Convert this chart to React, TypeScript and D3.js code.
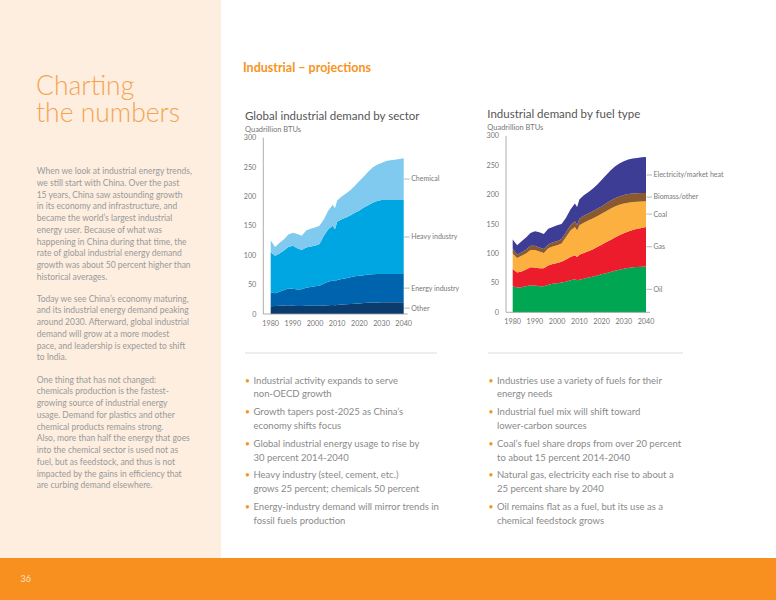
import React from "react";
import * as d3 from "d3";

const years = [1980,1982,1984,1986,1988,1990,1992,1994,1996,1998,2000,2002,2004,2006,2008,2009,2010,2012,2014,2016,2018,2020,2022,2024,2026,2028,2030,2032,2034,2036,2038,2040];

// Sector chart (Quadrillion BTUs)
const other = [13,13.5,14,14.5,15,14,13.5,13.5,14,14,14,14,14.5,15,15.5,15,15.5,16,16.5,17,17.5,18,18.5,19,19.5,19.5,20,20,20,20,20,20];
const energyIndustry = [24,22,24,26.5,28.5,29,28,28.5,30.5,32,33,34,37.5,40,41.5,40.5,42.5,43.5,44.5,45.5,46.5,47,47.5,48,48,48.5,48,48,48,48,48,48];
const heavyIndustry = [68,63.5,65,67,70.5,73,70.5,67,68.5,69,69,71,81,89,93,88.5,99,101.5,103,105.5,108,111,115,118,121.5,124,126,126,126,126,126,126];
const chemical = [20,15,18,19,21,22,24,24,29,30,31,31,28,32,36,36,36,39,41,43,46,50,53,57,60,62,63,66,67.5,68.5,69.5,71];

// Fuel chart (Quadrillion BTUs)
const oil = [44.5,42,42.5,44.5,46,45.5,44.5,44.5,47,48.5,49.5,50.5,52,54.5,56,54.5,55.5,57,59,60.5,62.5,64.5,66.5,68.5,70.5,72.5,74,75.5,76.5,77,77.5,78];
const gas = [29,25.5,27,28.5,30.5,30.5,30.5,30.5,32.5,33.5,34.5,35.5,38,39.5,41,39.5,42.5,44,45,46.5,48.5,50.5,52.5,54.5,56.5,58.5,60.5,62,63.5,65,66,67];
const coal = [26.5,25,26.5,27,29.5,30,28.5,26,29.5,30,30,31,38,45,48,45,50,51.5,52,52.5,52.5,52.5,53,53,53,52,50.5,49,47.5,46,45,44];
const biomass = [8,5.5,6,6.5,7,7,6.5,6.5,6.5,7,7,7.5,8,9,10,9.5,11,11.5,12,12.5,12.5,12.5,13,13.5,14,14,14.5,14.5,14.5,14.5,14.5,14];
const electricity = [16,16,19,20.5,22,25,26,25.5,26.5,26,27,25.5,25,27,30,30.5,33,35,36,38,41,45,48,51.5,54,56,57.5,59,59.5,60,60.5,61];

const yTicks = [0,50,100,150,200,250,300];
const xTicks = [1980,1990,2000,2010,2020,2030,2040];

const sectorKeys = ["Other","Energy industry","Heavy industry","Chemical"];
const sectorValues = [other, energyIndustry, heavyIndustry, chemical];
const sectorColors = ["#0b3c6f","#0063ae","#00a6e2","#80c9ef"];

const fuelKeys = ["Oil","Gas","Coal","Biomass/other","Electricity/market heat"];
const fuelValues = [oil, gas, coal, biomass, electricity];
const fuelColors = ["#00a651","#ec1c2d","#fbb03f","#8a5a2e","#3d3d96"];

const bullets1 = [
  ["Industrial activity expands to serve","non-OECD growth"],
  ["Growth tapers post-2025 as China’s","economy shifts focus"],
  ["Global industrial energy usage to rise by","30 percent 2014-2040"],
  ["Heavy industry (steel, cement, etc.)","grows 25 percent; chemicals 50 percent"],
  ["Energy-industry demand will mirror trends in","fossil fuels production"],
];
const bullets2 = [
  ["Industries use a variety of fuels for their","energy needs"],
  ["Industrial fuel mix will shift toward","lower-carbon sources"],
  ["Coal’s fuel share drops from over 20 percent","to about 15 percent 2014-2040"],
  ["Natural gas, electricity each rise to about a","25 percent share by 2040"],
  ["Oil remains flat as a fuel, but its use as a","chemical feedstock grows"],
];

const paragraphs = [
  ["When we look at industrial energy trends,","we still start with China. Over the past","15 years, China saw astounding growth","in its economy and infrastructure, and","became the world’s largest industrial","energy user. Because of what was","happening in China during that time, the","rate of global industrial energy demand","growth was about 50 percent higher than","historical averages."],
  ["Today we see China’s economy maturing,","and its industrial energy demand peaking","around 2030. Afterward, global industrial","demand will grow at a more modest","pace, and leadership is expected to shift","to India."],
  ["One thing that has not changed:","chemicals production is the fastest-","growing source of industrial energy","usage. Demand for plastics and other","chemical products remains strong.","Also, more than half the energy that goes","into the chemical sector is used not as","fuel, but as feedstock, and thus is not","impacted by the gains in efficiency that","are curbing demand elsewhere."],
];

const FONT = "Lato, 'Open Sans', sans-serif";

type ChartProps = {
  title: string; keys: string[]; values: number[][]; colors: string[];
  x0: number; x1: number; yBase: number; axisX: number; titleX: number; titleY: number;
  labelOverride?: Record<string, number>;
};

function StackChart(p: ChartProps) {
  const rows = years.map((yr, i) => {
    const r: any = { year: yr };
    p.keys.forEach((k, j) => (r[k] = p.values[j][i]));
    return r;
  });
  const series = d3.stack().keys(p.keys)(rows as any);
  const x = d3.scaleLinear().domain([1980, 2040]).range([p.x0, p.x1]);
  const y = d3.scaleLinear().domain([0, 300]).range([p.yBase, p.yBase - 176.4]);
  const area = d3.area<any>().x((d) => x(d.data.year)).y0((d) => y(d[0])).y1((d) => y(d[1])).curve(d3.curveLinear);
  const n = years.length - 1;
  return (
    <g fontFamily={FONT}>
      <text x={p.titleX} y={p.titleY} fontSize={11.5} fill="#555">{p.title}</text>
      <text x={p.titleX} y={p.titleY + 11.5} fontSize={7.5} fill="#777">Quadrillion BTUs</text>
      {series.map((s, i) => (
        <path key={p.keys[i]} d={area(s as any) || ""} fill={p.colors[i]} />
      ))}
      <line x1={p.axisX} x2={p.axisX} y1={y(300)} y2={y(0)} stroke="#999" strokeWidth={0.8} />
      <line x1={p.axisX} x2={p.x1 + 4} y1={y(0)} y2={y(0)} stroke="#999" strokeWidth={0.8} />
      {yTicks.map((t) => (
        <text key={t} x={p.axisX - 7} y={y(t) + 2.5} fontSize={7.2} fill="#777" textAnchor="end">{t}</text>
      ))}
      {xTicks.map((t) => (
        <text key={t} x={x(t)} y={y(0) + 11.5} fontSize={7.2} fill="#777" textAnchor="middle">{t}</text>
      ))}
      {series.map((s, i) => {
        const last = s[n];
        const k = p.keys[i];
        const v = p.labelOverride && p.labelOverride[k] !== undefined ? p.labelOverride[k] : (last[0] + last[1]) / 2;
        const ly = y(v);
        return (
          <g key={"l" + k}>
            <line x1={p.x1 + 0.5} x2={p.x1 + 6} y1={ly} y2={ly} stroke="#999" strokeWidth={0.7} />
            <text x={p.x1 + 7.5} y={ly + 2.4} fontSize={7} fill="#777">{k}</text>
          </g>
        );
      })}
    </g>
  );
}

function Bullets({ items, x }: { items: string[][]; x: number }) {
  return (
    <g fontFamily={FONT} fontSize={9.5} fill="#8a8a8a">
      {items.map((b, i) => (
        <g key={i}>
          <text x={x} y={383.5 + i * 31.6} fill="#f7941d" fontSize={8.5}>•</text>
          {b.map((line, j) => (
            <text key={j} x={x + 8.5} y={383.5 + i * 31.6 + j * 13.8}>{line}</text>
          ))}
        </g>
      ))}
    </g>
  );
}

export default function App() {
  const starts = [174, 301.5, 382.5];
  return (
    <svg width={776} height={600} style={{ position: "absolute", left: 0, top: 0, background: "#fff" }}>
      <rect x={0} y={0} width={221} height={558} fill="#fdeee0" />
      <rect x={0} y={558} width={776} height={42} fill="#f7901e" />
      <text x={20.5} y={582} fontFamily={FONT} fontSize={9} fill="#fde2c2">36</text>
      <text x={36} y={95} fontFamily={FONT} fontWeight={300} fontSize={26.5} fill="#f4a452">Charting</text>
      <text x={36} y={122.3} fontFamily={FONT} fontWeight={300} fontSize={26.5} fill="#f4a452">the numbers</text>
      <g fontFamily={FONT} fontSize={8.5} fill="#9a9a9a">
        {paragraphs.map((para, pi) =>
          para.map((line, li) => (
            <text key={pi + "-" + li} x={36.7} y={starts[pi] + li * 11.75}>{line}</text>
          ))
        )}
      </g>
      <text x={243} y={72} fontFamily={FONT} fontWeight={700} fontSize={12.5} fill="#f7941d">Industrial – projections</text>
      <StackChart title="Global industrial demand by sector" keys={sectorKeys} values={sectorValues} colors={sectorColors}
        x0={270.7} x1={403.7} yBase={314} axisX={263.3} titleX={245} titleY={120} />
      <StackChart title="Industrial demand by fuel type" keys={fuelKeys} values={fuelValues} colors={fuelColors}
        x0={512.7} x1={646} yBase={312.3} axisX={506} titleX={487.3} titleY={118} />
      <line x1={245} x2={437} y1={353} y2={353} stroke="#ddd" strokeWidth={1} />
      <line x1={488} x2={683} y1={353} y2={353} stroke="#ddd" strokeWidth={1} />
      <Bullets items={bullets1} x={245} />
      <Bullets items={bullets2} x={488.5} />
    </svg>
  );
}
